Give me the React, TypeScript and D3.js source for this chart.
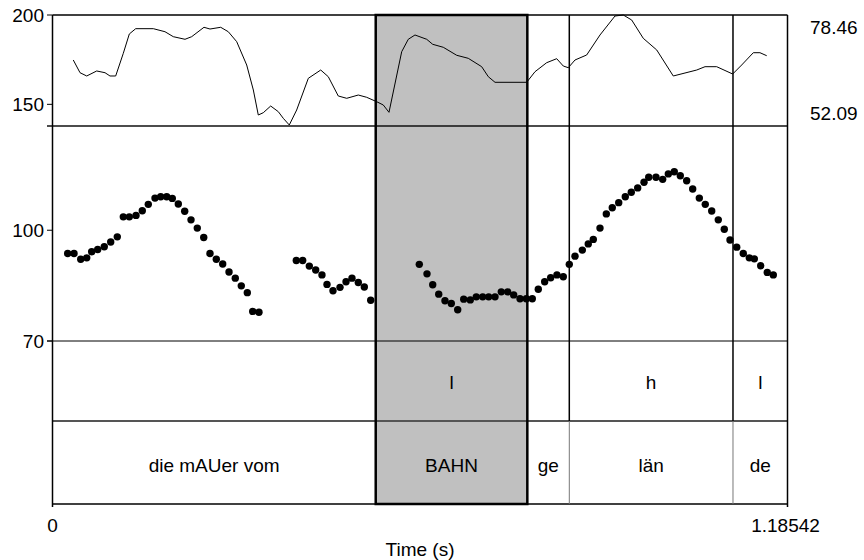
import * as d3 from "d3";
import React from "react";

// intensity contour (dB) - top panel
const intTimes = [0.0335, 0.0444, 0.0552, 0.0713, 0.0847, 0.0927, 0.1019, 0.1142, 0.1239, 0.1342, 0.1626, 0.1814, 0.1948, 0.2137, 0.2245, 0.2443, 0.2540, 0.2713, 0.2835, 0.2971, 0.3132, 0.3239, 0.3319, 0.3400, 0.3519, 0.3642, 0.3722, 0.3819, 0.3938, 0.4126, 0.4326, 0.4448, 0.4609, 0.4745, 0.4932, 0.5067, 0.5229, 0.5335, 0.5427, 0.5632, 0.5738, 0.5846, 0.6035, 0.6132, 0.6303, 0.6519, 0.6706, 0.6922, 0.7029, 0.7137, 0.7648, 0.7782, 0.7970, 0.8132, 0.8238, 0.8319, 0.8427, 0.8615, 0.8830, 0.9072, 0.9206, 0.9341, 0.9528, 0.9745, 1.0012, 1.0390, 1.0524, 1.0712, 1.0970, 1.1115, 1.1303, 1.1410, 1.1519];
const intValues = [67.77, 64.75, 63.97, 65.16, 64.75, 63.97, 63.97, 69.36, 73.95, 75.21, 75.21, 74.49, 73.31, 72.69, 73.31, 75.54, 75.13, 75.54, 74.49, 72.12, 66.58, 60.64, 54.70, 55.25, 56.84, 55.49, 53.92, 52.33, 55.89, 63.42, 65.39, 63.80, 59.22, 58.67, 59.45, 58.91, 57.86, 57.08, 55.34, 69.74, 72.69, 73.71, 72.69, 71.50, 70.79, 68.89, 68.17, 66.18, 63.80, 62.47, 62.47, 64.99, 67.13, 68.08, 66.34, 65.94, 67.77, 68.96, 73.71, 78.22, 78.46, 77.27, 72.92, 70.15, 63.97, 65.39, 66.18, 66.18, 64.44, 66.58, 69.50, 69.50, 68.79];

// pitch points (Hz)
const f0Times = [0.0245, 0.0347, 0.0455, 0.0552, 0.0632, 0.0729, 0.0835, 0.0939, 0.1045, 0.1142, 0.1239, 0.1347, 0.1448, 0.1545, 0.1653, 0.1745, 0.1842, 0.1932, 0.2029, 0.2132, 0.2234, 0.2335, 0.2439, 0.2540, 0.2642, 0.2745, 0.2847, 0.2948, 0.3045, 0.3142, 0.3229, 0.3330,
  0.3932, 0.4035, 0.4142, 0.4245, 0.4346, 0.4427, 0.4524, 0.4637, 0.4734, 0.4830, 0.4932, 0.5029, 0.5132,
  0.5916, 0.6040, 0.6132, 0.6229, 0.6330, 0.6432, 0.6535, 0.6632, 0.6738, 0.6835, 0.6938, 0.7035, 0.7137, 0.7238, 0.7341, 0.7438, 0.7540, 0.7642, 0.7738, 0.7835, 0.7938, 0.8035, 0.8136, 0.8238, 0.8335, 0.8427, 0.8545, 0.8641, 0.8722, 0.8830, 0.8932, 0.9028, 0.9132, 0.9238, 0.9335, 0.9438, 0.9540, 0.9616, 0.9733, 0.9841, 0.9932, 1.0028, 1.0125, 1.0228, 1.0325, 1.0432, 1.0528, 1.0632, 1.0738, 1.0835, 1.0927, 1.1035, 1.1141, 1.1238, 1.1319, 1.1422, 1.1528, 1.1625];
const f0Values = [92.8, 92.8, 91.1, 91.5, 93.3, 94.0, 94.8, 96.3, 97.9, 104.4, 104.4, 104.9, 106.5, 108.7, 110.9, 111.4, 111.4, 110.8, 108.8, 106.3, 103.4, 100.7, 97.7, 92.8, 91.1, 89.7, 87.4, 85.7, 83.6, 81.8, 77.0, 76.8,
  90.7, 90.7, 89.1, 88.0, 86.6, 84.0, 82.3, 83.2, 84.7, 85.7, 84.5, 83.3, 79.8,
  89.6, 86.9, 83.9, 81.4, 79.7, 79.0, 77.4, 80.1, 79.9, 80.7, 80.7, 80.7, 80.7, 82.0, 82.0, 81.2, 80.2, 80.2, 80.2, 82.7, 84.7, 85.8, 86.6, 86.1, 89.6, 92.0, 93.8, 95.7, 97.1, 100.7, 105.4, 107.5, 109.3, 111.4, 113.0, 114.6, 116.7, 118.6, 118.6, 117.8, 119.9, 120.7, 119.2, 117.3, 114.2, 110.9, 108.7, 106.4, 103.4, 100.3, 96.9, 94.7, 92.8, 91.5, 91.2, 89.2, 87.3, 86.6];

// TextGrid tiers
const bounds = [0, 0.5213, 0.7658, 0.8335, 1.0975, 1.18542];
const toneLabels = ["", "l", "", "h", "l"];
const wordLabels = ["die mAUer vom", "BAHN", "ge", "län", "de"];

const pitchTicks = [70, 100, 150, 200];
const intRange = [52.09, 78.46];
const duration = 1.18542;

const W = 864, H = 560;
const font = "'Liberation Sans', Arial, sans-serif";

export default function App() {
    const x = d3.scaleLinear().domain([0, duration]).range([52.5, 787.5]);
    const yPitch = d3.scaleLog().domain([70, 200]).range([341, 15]);
    const yInt = d3.scaleLinear().domain(intRange).range([126, 15]);

    const top = 15, intBottom = 126, toneTop = 341, tierSplit = 421, bottom = 504;

    const line = d3.line<number>()
        .x((d, i) => x(intTimes[i]))
        .y(d => yInt(d));

    const hiStart = x(bounds[1]), hiEnd = x(bounds[2]);

    return (
        <svg width={W} height={H} style={{position: "absolute", left: 0, top: 0, background: "#fff"}}
             fontFamily={font} fontSize={19}>
            {/* highlighted word */}
            <rect x={hiStart} y={top} width={hiEnd - hiStart} height={bottom - top} fill="#c0c0c0"/>

            {/* frame + panel separators */}
            <line x1={x(0)} x2={x(duration)} y1={top} y2={top} stroke="#000" strokeWidth={1.5}/>
            <line x1={47} x2={x(duration)} y1={intBottom} y2={intBottom} stroke="#111" strokeWidth={1.5}/>
            <line x1={47} x2={x(duration)} y1={toneTop} y2={toneTop} stroke="#000" strokeWidth={1}/>
            <line x1={x(0)} x2={x(duration)} y1={tierSplit} y2={tierSplit} stroke="#555" strokeWidth={2.2}/>
            <line x1={x(0)} x2={x(duration)} y1={bottom} y2={bottom} stroke="#000" strokeWidth={1.5}/>
            <line x1={x(0)} x2={x(0)} y1={top} y2={bottom + 3} stroke="#000" strokeWidth={1.5}/>
            <line x1={x(duration)} x2={x(duration)} y1={top} y2={bottom + 3} stroke="#000" strokeWidth={1.5}/>

            {/* interval boundaries */}
            {bounds.slice(3, 5).map(b => (
                <g key={b}>
                    <line x1={x(b)} x2={x(b)} y1={top} y2={tierSplit} stroke="#000" strokeWidth={1.5}/>
                    <line x1={x(b)} x2={x(b)} y1={tierSplit} y2={bottom} stroke="#777" strokeWidth={1}/>
                </g>
            ))}
            <rect x={hiStart} y={top} width={hiEnd - hiStart} height={bottom - top} fill="none"
                  stroke="#000" strokeWidth={2.5}/>

            {/* intensity */}
            <path d={line(intValues) || ""} fill="none" stroke="#000" strokeWidth={1}/>

            {/* pitch */}
            {f0Values.map((f, i) => (
                <circle key={i} cx={x(f0Times[i])} cy={yPitch(f)} r={3.7} fill="#000"/>
            ))}

            {/* left axis */}
            {pitchTicks.map(t => (
                <g key={t}>
                    <line x1={47} x2={x(0)} y1={yPitch(t)} y2={yPitch(t)} stroke="#000"/>
                    <text x={44} y={yPitch(t)} dy="0.35em" textAnchor="end">{t}</text>
                </g>
            ))}

            {/* intensity range labels */}
            <text x={810} y={yInt(intRange[1]) + 12} dy="0.35em">{intRange[1]}</text>
            <text x={810} y={yInt(intRange[0]) - 13} dy="0.35em">{intRange[0].toFixed(2)}</text>

            {/* tier labels */}
            {toneLabels.map((l, i) => l && (
                <text key={"t" + i} x={(x(bounds[i]) + x(bounds[i + 1])) / 2} y={382} dy="0.35em"
                      textAnchor="middle">{l}</text>
            ))}
            {wordLabels.map((l, i) => (
                <text key={"w" + i} x={(x(bounds[i]) + x(bounds[i + 1])) / 2} y={465} dy="0.35em"
                      textAnchor="middle">{l}</text>
            ))}

            {/* x axis */}
            <text x={x(0)} y={525} dy="0.35em" textAnchor="middle">0</text>
            <text x={x(duration) - 2} y={525} dy="0.35em" textAnchor="middle">{duration}</text>
            <text x={(x(0) + x(duration)) / 2} y={549} dy="0.35em" textAnchor="middle">Time (s)</text>
        </svg>
    );
}
